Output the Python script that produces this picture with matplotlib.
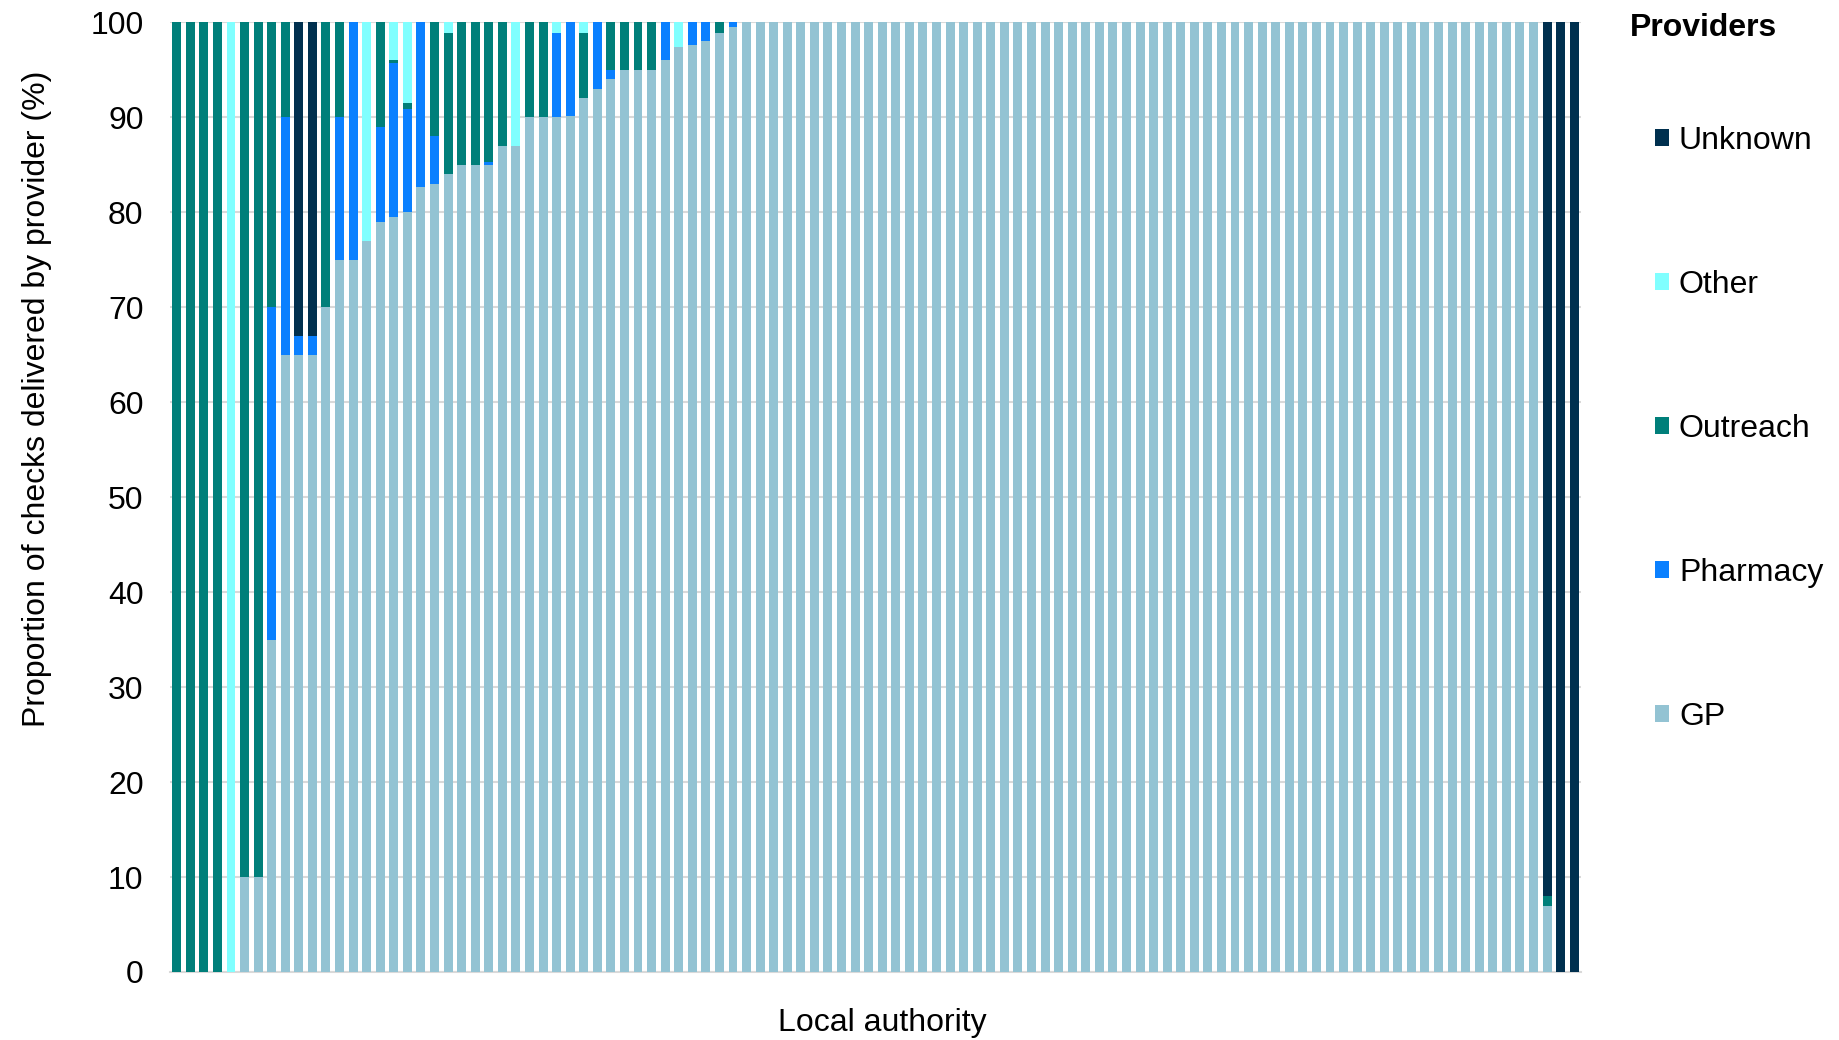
import numpy as np
import matplotlib
matplotlib.use("Agg")
import matplotlib.pyplot as plt
from matplotlib.patches import Patch

plt.rcParams['font.family'] = ['Liberation Sans', 'DejaVu Sans']

# values, one entry per local authority (104 bars)
gp = [0, 0, 0, 0, 0, 10, 10, 35, 65, 65, 65, 70, 75, 75, 77, 79, 79.5, 80, 82.7, 83,
      84, 85, 85, 85, 87, 87, 90, 90, 90, 90.1, 92, 93, 94, 95, 95, 95, 96, 97.4, 97.6, 98,
      98.9, 99.5] + [100] * 59 + [6.9, 0, 0]
pharmacy = [0, 0, 0, 0, 0, 0, 0, 35, 25, 2, 2, 0, 15, 25, 0, 10, 16.2, 10.9, 17.3, 5,
            0, 0, 0, 0.3, 0, 0, 0, 0, 8.9, 9.9, 0, 7, 1, 0, 0, 0, 4, 0, 2.4, 2,
            0, 0.5] + [0] * 59 + [0, 0, 0]
outreach = [100, 100, 100, 100, 0, 90, 90, 30, 10, 0, 0, 30, 10, 0, 0, 11, 0.3, 0.6, 0, 12,
            14.9, 15, 15, 14.7, 13, 0, 10, 10, 0, 0, 6.9, 0, 5, 5, 5, 5, 0, 0, 0, 0,
            1.1, 0] + [0] * 59 + [1.1, 0, 0]
other = [0, 0, 0, 0, 100, 0, 0, 0, 0, 0, 0, 0, 0, 0, 23, 0, 4, 8.5, 0, 0,
         1.1, 0, 0, 0, 0, 13, 0, 0, 1.1, 0, 1.1, 0, 0, 0, 0, 0, 0, 2.6, 0, 0,
         0, 0] + [0] * 59 + [0, 0, 0]
unknown = [0, 0, 0, 0, 0, 0, 0, 0, 0, 33, 33, 0, 0, 0, 0, 0, 0, 0, 0, 0,
           0, 0, 0, 0, 0, 0, 0, 0, 0, 0, 0, 0, 0, 0, 0, 0, 0, 0, 0, 0,
           0, 0] + [0] * 59 + [92, 100, 100]

series = [("GP", gp, "#93C3D3"),
          ("Pharmacy", pharmacy, "#0A80FF"),
          ("Outreach", outreach, "#007F7A"),
          ("Other", other, "#80FFFF"),
          ("Unknown", unknown, "#00304F")]

fig = plt.figure(figsize=(18.39, 10.40), dpi=100)
ax = fig.add_axes([0.0924, 0.0654, 0.7673, 0.9132])

x = np.arange(len(gp))
bottom = np.zeros(len(gp))
for name, vals, col in series:
    vals = np.array(vals, dtype=float)
    ax.bar(x, vals, bottom=bottom, width=0.66, color=col, linewidth=0, zorder=3)
    bottom += vals

ax.set_xlim(-0.5, len(gp) - 0.5)
ax.set_ylim(0, 100)
ax.set_yticks(range(0, 101, 10))
ax.set_xticks([])
ax.grid(axis='y', color='#D9D9D9', linewidth=1.5, zorder=0)
for s in ['top', 'right', 'left']:
    ax.spines[s].set_visible(False)
ax.spines['bottom'].set_color('#D9D9D9')
ax.spines['bottom'].set_linewidth(1.5)
ax.tick_params(axis='y', length=0, pad=19, labelsize=23, colors='#000000')
ax.set_ylabel("Proportion of checks delivered by provider (%)", fontsize=23)
ax.yaxis.set_label_coords(-0.0835, 0.603)
ax.set_xlabel("Local authority", fontsize=23)
ax.xaxis.set_label_coords(0.5046, -0.038)

fig.text(1630 / 1839, 1 - 28 / 1040, "Providers", fontsize=23, fontweight='bold',
         ha='left', va='center')
handles = [Patch(facecolor=col, label=name) for name, vals, col in reversed(series)]
fig.legend(handles=handles, loc='upper left', bbox_to_anchor=(1655 / 1839, 1 - 126 / 1040),
           frameon=False, fontsize=23, labelspacing=3.57, handlelength=0.45,
           handleheight=0.45, handletextpad=0.3, borderpad=0, borderaxespad=0)

fig.savefig("out.png", dpi=100)
